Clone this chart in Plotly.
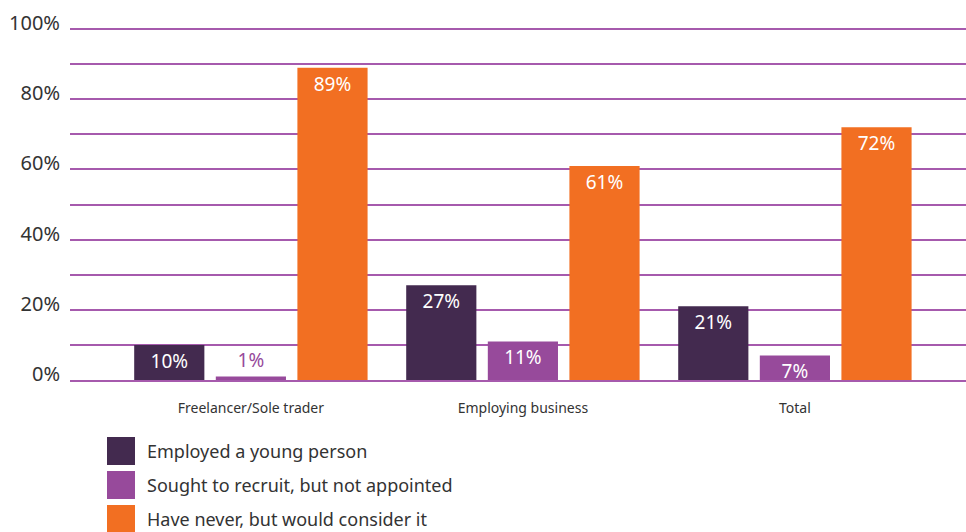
import plotly.graph_objects as go

# Survey results by business type
categories = ["Freelancer/Sole trader", "Employing business", "Total"]
series_names = [
    "Employed a young person",
    "Sought to recruit, but not appointed",
    "Have never, but would consider it",
]
employed = [10, 27, 21]
sought = [1, 11, 7]
never = [89, 61, 72]
series_values = [employed, sought, never]

colors = ["#432A4F", "#974A9B", "#F26F22"]
grid_color = "#A65AAD"
font_family = "Noto Sans, Open Sans, sans-serif"

tick_vals = list(range(0, 101, 10))
tick_text = [f"{v}%" if v % 20 == 0 else "" for v in tick_vals]

fig = go.Figure()
for name, vals, col in zip(series_names, series_values, colors):
    positions = ["outside" if v < 3 else "inside" for v in vals]
    fig.add_trace(go.Bar(
        x=categories,
        y=vals,
        name=name,
        marker=dict(color=col, line=dict(width=0)),
        text=[f"{v}%" for v in vals],
        textposition=positions,
        insidetextanchor="end",
        insidetextfont=dict(color="white", size=19, family=font_family),
        outsidetextfont=dict(color=col, size=19, family=font_family),
        constraintext="none",
        cliponaxis=False,
        showlegend=False,
    ))

# Plot area geometry in pixels (used for the hand-drawn legend below the axes)
fig_w, fig_h = 966, 532
plot_left, plot_w = 70, 896
plot_bottom, plot_h = 380, 353

shapes = []
annotations = []
swatch_top = [437, 471, 505]
swatch_size = 28
for name, col, top in zip(series_names, colors, swatch_top):
    shapes.append(dict(
        type="rect", xref="paper", yref="paper",
        x0=(107 - plot_left) / plot_w, x1=(107 + swatch_size - plot_left) / plot_w,
        y0=(plot_bottom - (top + swatch_size)) / plot_h,
        y1=(plot_bottom - top) / plot_h,
        fillcolor=col, line=dict(width=0), layer="above",
    ))
    annotations.append(dict(
        xref="paper", yref="paper",
        x=(145 - plot_left) / plot_w,
        y=(plot_bottom - (top + swatch_size / 2)) / plot_h,
        xanchor="left", yanchor="middle", showarrow=False,
        text=name, font=dict(size=18, color="#333333", family=font_family),
    ))

fig.update_layout(
    width=fig_w, height=fig_h,
    margin=dict(l=plot_left, r=0, t=plot_bottom - plot_h, b=fig_h - plot_bottom),
    paper_bgcolor="white", plot_bgcolor="white",
    barmode="group", bargap=0.1, bargroupgap=0.14,
    font=dict(family=font_family, color="#333333"),
    shapes=shapes, annotations=annotations,
    xaxis=dict(
        range=[-0.665, 2.629],
        showgrid=False, zeroline=False,
        showline=True, linecolor=grid_color, linewidth=2,
        layer="above traces",
        tickfont=dict(size=14, color="#333333", family=font_family),
        ticks="", ticklen=0,
        ticklabelstandoff=14,
    ),
    yaxis=dict(
        range=[0, 100.6],
        tickvals=tick_vals, ticktext=tick_text,
        showgrid=True, gridcolor=grid_color, gridwidth=1.5,
        zeroline=False, showline=False, ticks="",
        ticklabelstandoff=9,
        ticklabelshift=-6,
        tickfont=dict(size=20, color="#333333", family=font_family),
    ),
)

fig.write_html("out.html")
